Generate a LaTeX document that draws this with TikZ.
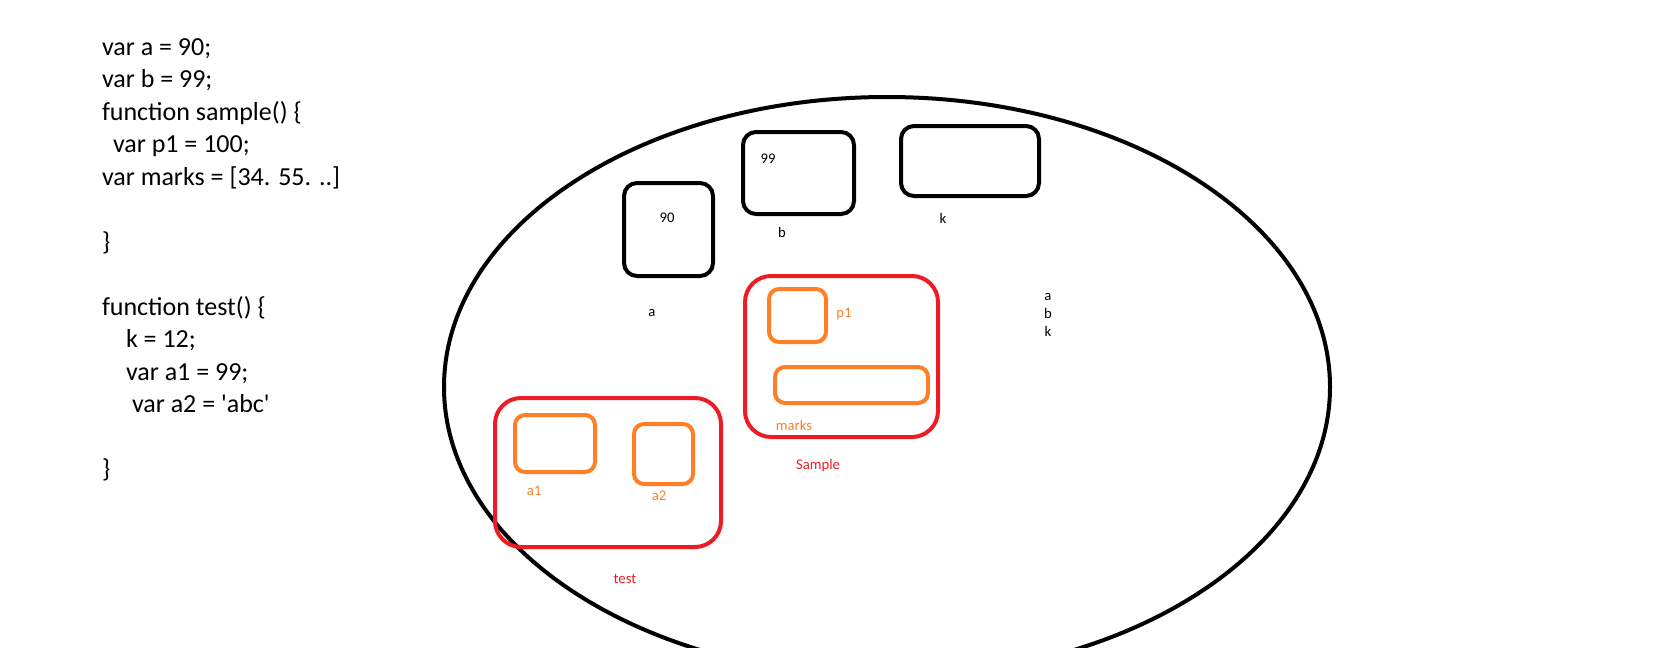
\documentclass[tikz,border=0pt]{standalone}
\usepackage{fontspec}
\setmainfont{Carlito}
\usetikzlibrary{shapes.geometric}
\definecolor{paintred}{HTML}{ED1C24}
\definecolor{paintorange}{HTML}{FF7F27}

\begin{document}
\begin{tikzpicture}[x=1pt,y=-1pt]
\def\codefont{\fontsize{26}{32.5}\selectfont}
\def\labfont{\fontsize{14.7}{18}\selectfont}

\tikzset{every node/.style={inner sep=0pt, outer sep=0pt}}
\tikzset{codeline/.style={anchor=base west, font=\codefont}}
\tikzset{lab/.style={font=\labfont}}
\tikzset{varbox/.style={draw=black, line width=4pt, rounded corners=13pt}}
\tikzset{fnbox/.style={draw=paintred, line width=4pt, rounded corners=26pt}}
\tikzset{localbox/.style={draw=paintorange, line width=4pt, rounded corners=10pt}}

\useasboundingbox (0,0) rectangle (1671,648);

%%%%%% source code
\node(line1)at(102,55)[codeline]{var a = 90;};
\node(line2)at(102,87.5)[codeline]{var b = 99;};
\node(line3)at(102,120)[codeline]{function sample() \{};
\node(line4)at(113,152.5)[codeline]{var p1 = 100;};
\node(line5)at(102,185)[codeline]{var marks = [34. 55. ..]};
\node(line6)at(102,250)[codeline]{\}};
\node(line7)at(102,315)[codeline]{function test() \{};
\node(line8)at(126,347.5)[codeline]{k = 12;};
\node(line9)at(126,380)[codeline]{var a1 = 99;};
\node(line10)at(132,412.5)[codeline]{var a2 = \textquotesingle abc\textquotesingle};
\node(line11)at(102,477.5)[codeline]{\}};

%%%%%% global scope
\node(global)at(887,387)[ellipse,draw=black,line width=4pt,minimum width=886pt,minimum height=580pt]{};

%%%%%% global variables
\node(boxa)at(668.5,229.5)[varbox,minimum width=89pt,minimum height=93pt]{};
\node(vala)at(667,218)[lab]{90};
\node(laba)at(652,313)[lab]{a};
\node(boxb)at(798.5,173)[varbox,minimum width=111pt,minimum height=82pt]{};
\node(valb)at(768,159)[lab]{99};
\node(labb)at(782,232)[lab]{b};
\node(boxk)at(970,161)[varbox,minimum width=138pt,minimum height=70pt]{};
\node(labk)at(943,218)[lab]{k};
\node(globalvars)at(1048,315)[lab,align=center]{a\\b\\k};

%%%%%% sample()
\node(sample)at(841.5,356.5)[fnbox,minimum width=193pt,minimum height=161pt]{};
\node(boxp1)at(797.5,315.5)[localbox,minimum width=57pt,minimum height=53pt]{};
\node(labp1)at(844,314)[lab,text=paintorange]{p1};
\node(boxmarks)at(851.5,385)[localbox,minimum width=153pt,minimum height=36pt]{};
\node(labmarks)at(794,425)[lab,text=paintorange]{marks};
\node(labsample)at(818,466)[lab,text=paintred]{Sample};

%%%%%% test()
\node(test)at(608,472.5)[fnbox,minimum width=226pt,minimum height=149pt]{};
\node(boxa1)at(555,443.5)[localbox,minimum width=80pt,minimum height=57pt]{};
\node(laba1)at(534,491)[lab,text=paintorange]{a1};
\node(boxa2)at(663.5,454)[localbox,minimum width=59pt,minimum height=60pt]{};
\node(laba2)at(659,496)[lab,text=paintorange]{a2};
\node(labtest)at(625,579)[lab,text=paintred]{test};
\end{tikzpicture}
\end{document}
